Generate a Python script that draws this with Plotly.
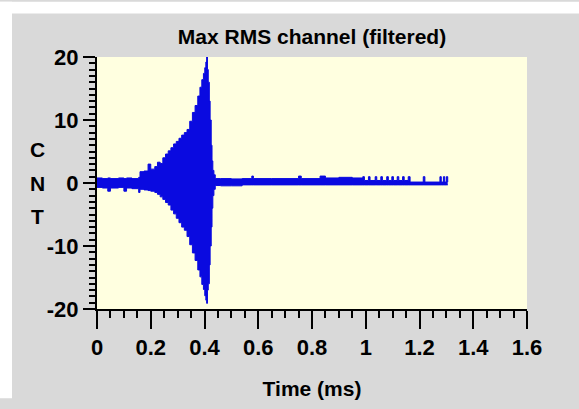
import plotly.graph_objects as go

# ---- data (envelope of the filtered signal) ----
time_ms = [0.00, 0.02, 0.04, 0.05, 0.08, 0.10, 0.11, 0.13, 0.155, 0.16, 0.175, 0.19, 0.20,
           0.215, 0.225, 0.235, 0.245, 0.255, 0.265, 0.275, 0.285, 0.295, 0.305, 0.315,
           0.325, 0.335, 0.345, 0.355, 0.365, 0.375, 0.383, 0.39, 0.396, 0.401, 0.405,
           0.408, 0.411, 0.414, 0.418, 0.421, 0.425, 0.428, 0.431, 0.435, 0.44,
           0.46, 0.50, 0.54, 0.576, 0.582, 0.65, 0.75, 0.76, 0.83, 0.85, 0.90, 0.95,
           0.989, 0.995, 1.01, 1.016, 1.035, 1.041, 1.056, 1.062, 1.078, 1.084, 1.097,
           1.103, 1.117, 1.123, 1.137, 1.143, 1.158, 1.165, 1.214, 1.220, 1.276, 1.281,
           1.289, 1.294, 1.300, 1.305]
upper = [0.8, 0.7, 0.8, 0.7, 0.8, 0.7, 0.8, 0.7, 0.9, 1.8, 1.9, 3.0, 2.2,
         2.6, 3.3, 3.1, 4.0, 4.6, 5.1, 5.6, 6.2, 6.6, 7.1, 7.6,
         8.0, 8.5, 9.8, 11.2, 12.3, 13.8, 15.2, 16.4, 17.4, 18.3, 19.2,
         20.0, 18.0, 16.0, 13.0, 10.0, 6.0, 3.5, 2.0, 1.3, 0.7,
         0.7, 0.65, 0.7, 1.1, 0.7, 0.7, 1.1, 0.7, 1.1, 0.8, 0.9, 0.8,
         1.0, 0.4, 1.0, 0.4, 1.0, 0.4, 1.0, 0.4, 1.0, 0.4, 1.0,
         0.4, 1.0, 0.4, 1.0, 0.4, 1.0, 0.15, 1.0, 0.15, 1.0, 0.15,
         1.0, 0.15, 1.0, 0.15]
lower = [-0.7, -0.8, -1.3, -0.8, -0.7, -1.3, -0.8, -0.9, -1.5, -1.0, -1.1, -1.2, -1.3,
         -1.5, -1.8, -2.2, -2.6, -3.1, -3.5, -4.3, -4.9, -5.6, -6.3, -7.0,
         -7.5, -8.5, -9.8, -11.1, -12.3, -13.8, -14.9, -16.1, -16.9, -17.9, -18.6,
         -19.1, -17.0, -16.0, -13.0, -10.0, -7.0, -4.0, -2.0, -1.0, -0.4,
         -0.45, -0.45, -0.3, -0.3, -0.3, -0.3, -0.3, -0.3, -0.3, -0.3, -0.3, -0.3,
         -0.3, -0.3, -0.3, -0.3, -0.3, -0.3, -0.3, -0.3, -0.3, -0.3, -0.3,
         -0.3, -0.3, -0.3, -0.3, -0.3, -0.3, -0.3, -0.3, -0.3, -0.3, -0.3,
         -0.3, -0.3, -0.3, -0.3]

x_ticks = [0, 0.2, 0.4, 0.6, 0.8, 1.0, 1.2, 1.4, 1.6]
x_tick_labels = ["0", "0.2", "0.4", "0.6", "0.8", "1", "1.2", "1.4", "1.6"]
y_ticks = [-20, -10, 0, 10, 20]
y_tick_labels = ["-20", "-10", "0", "10", "20"]
y_label_letters = ["C", "N", "T"]

BLUE = "#0a0ae0"
GRAY = "#d9d9d9"
FONT = "Liberation Sans, Arial, sans-serif"

fig = go.Figure()
fig.add_trace(go.Scatter(x=time_ms, y=lower, mode="lines", line=dict(color=BLUE, width=1, shape="hv"),
                         showlegend=False, hoverinfo="skip"))
fig.add_trace(go.Scatter(x=time_ms, y=upper, mode="lines", line=dict(color=BLUE, width=1, shape="hv"),
                         fill="tonexty", fillcolor=BLUE, showlegend=False, hoverinfo="skip"))

H_PLOT = 260.0
W_PLOT = 430.0
letter_px = [152, 187, 222]
annotations = []
for letter, py in zip(y_label_letters, letter_px):
    annotations.append(dict(text="<b>%s</b>" % letter, x=(37 - 97) / W_PLOT, y=(317 - py) / H_PLOT,
                            xref="paper", yref="paper", showarrow=False,
                            font=dict(family=FONT, size=21, color="black"),
                            xanchor="center", yanchor="middle"))

fig.update_layout(
    width=579, height=409,
    margin=dict(l=97, r=52, t=57, b=92),
    paper_bgcolor=GRAY,
    plot_bgcolor="#ffffe0",
    font=dict(family=FONT, color="black"),
    title=dict(text="<b>Max RMS channel (filtered)</b>", x=312 / 579, xanchor="center",
               y=1 - 37 / 409, yanchor="middle", yref="container",
               font=dict(family=FONT, size=21, color="black")),
    xaxis=dict(range=[0, 1.6], tickvals=x_ticks, ticktext=["<b>%s</b>" % t for t in x_tick_labels],
               ticks="outside", ticklen=18, tickwidth=2, tickcolor="black",
               minor=dict(dtick=0.05, ticks="outside", ticklen=7, tickwidth=2, tickcolor="black"),
               showline=True, linewidth=2, linecolor="black", showgrid=False, zeroline=False,
               tickfont=dict(family=FONT, size=22, color="black"), automargin=True,
               title=dict(text="<b>Time (ms)</b>", font=dict(family=FONT, size=21, color="black"),
                          standoff=22)),
    yaxis=dict(range=[-20, 20], tickvals=y_ticks, ticktext=["<b>%s</b>" % t for t in y_tick_labels],
               ticks="outside", ticklen=12, tickwidth=2, tickcolor="black",
               minor=dict(dtick=1, ticks="outside", ticklen=6, tickwidth=1.5, tickcolor="black"),
               showline=True, linewidth=2, linecolor="black", showgrid=False, zeroline=False,
               tickfont=dict(family=FONT, size=22, color="black"), automargin=False),
    annotations=annotations,
    shapes=[
        dict(type="rect", xref="paper", yref="paper", x0=-97 / W_PLOT, x1=(579 - 97) / W_PLOT,
             y0=(317 - 12) / H_PLOT, y1=317 / H_PLOT, fillcolor="white", line=dict(width=0), layer="above"),
        dict(type="rect", xref="paper", yref="paper", x0=-97 / W_PLOT, x1=(12 - 97) / W_PLOT,
             y0=-92 / H_PLOT, y1=317 / H_PLOT, fillcolor="white", line=dict(width=0), layer="above"),
    ],
)

fig.write_html("out.html", config={"displayModeBar": False},
               post_script="document.body.style.margin='0px';"
                           "document.body.style.background='%s';"
                           "document.documentElement.style.background='%s';"
                           "document.body.style.overflow='hidden';" % (GRAY, GRAY))
